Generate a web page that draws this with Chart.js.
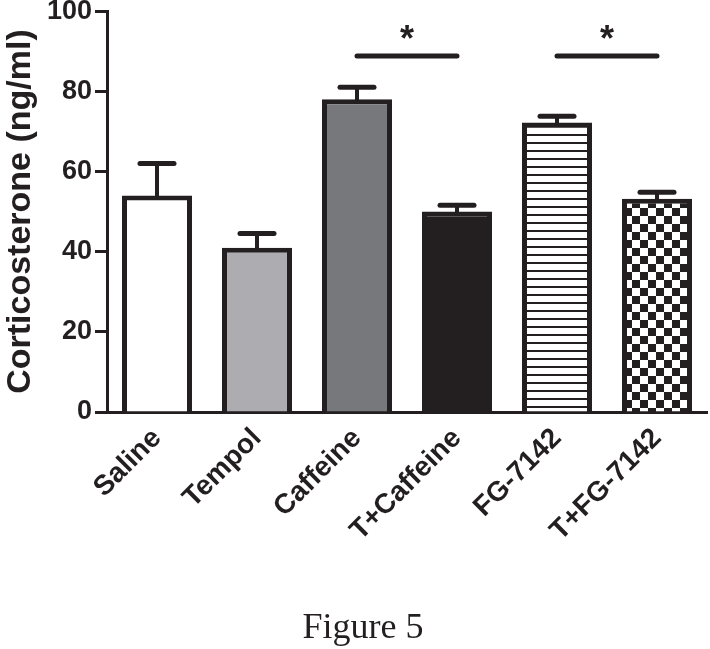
<!DOCTYPE html>
<html>
<head>
<meta charset="utf-8">
<script src="https://cdn.jsdelivr.net/npm/chart.js@4"></script>
<style>
  html, body { margin: 0; padding: 0; background: #fff; }
  #wrap { width: 710px; height: 649px; }
</style>
</head>
<body>
<div id="wrap"><canvas id="corticoChart" width="710" height="649"></canvas></div>
<script>
// values
const categories = ['Saline', 'Tempol', 'Caffeine', 'T+Caffeine', 'FG-7142', 'T+FG-7142'];
const means = [54, 41, 78, 50, 72.2, 53.2];
const sems = [8, 3.5, 3, 1.6, 1.6, 1.6];
const yTicks = [0, 20, 40, 60, 80, 100];
const sigPairs = [[2, 3], [4, 5]];
const sigLevels = [88.8, 88.8];
const sigLabel = '*';
const caption = 'Figure 5';

const ink = '#231f20';

function stripePattern() {
    const c = document.createElement('canvas');
    c.width = 8; c.height = 8;
    const g = c.getContext('2d');
    g.fillStyle = '#fff';
    g.fillRect(0, 0, 8, 8);
    g.fillStyle = ink;
    g.fillRect(0, 6, 8, 2);
    return g.createPattern(c, 'repeat');
}

function checkerPattern() {
    const c = document.createElement('canvas');
    c.width = 16; c.height = 16;
    const g = c.getContext('2d');
    g.fillStyle = '#fff';
    g.fillRect(0, 0, 16, 16);
    g.fillStyle = ink;
    g.fillRect(0, 0, 8, 8);
    g.fillRect(8, 8, 8, 8);
    return g.createPattern(c, 'repeat');
}

const fills = ['#ffffff', '#adadb1', '#77787c', ink, stripePattern(), checkerPattern()];

const errorBars = {
    id: 'errorBars',
    afterDatasetsDraw(chart) {
        const ctx = chart.ctx;
        const y = chart.scales.y;
        const meta = chart.getDatasetMeta(0);
        ctx.save();
        ctx.strokeStyle = ink;
        ctx.lineCap = 'round';
        meta.data.forEach((bar, i) => {
            const top = y.getPixelForValue(means[i]);
            const hi = y.getPixelForValue(means[i] + sems[i]);
            ctx.lineWidth = 4;
            ctx.beginPath();
            ctx.moveTo(bar.x, top);
            ctx.lineTo(bar.x, hi);
            ctx.stroke();
            ctx.lineWidth = 5;
            ctx.beginPath();
            ctx.moveTo(bar.x - 17, hi);
            ctx.lineTo(bar.x + 17, hi);
            ctx.stroke();
        });
        // significance brackets
        const x = chart.scales.x;
        sigPairs.forEach((p, k) => {
            const ly = y.getPixelForValue(sigLevels[k]);
            const x0 = x.getPixelForValue(p[0]);
            const x1 = x.getPixelForValue(p[1]);
            ctx.lineWidth = 5;
            ctx.beginPath();
            ctx.moveTo(x0, ly);
            ctx.lineTo(x1, ly);
            ctx.stroke();
            ctx.fillStyle = ink;
            ctx.font = 'bold 36px "Liberation Sans", Arial, sans-serif';
            ctx.textAlign = 'center';
            ctx.textBaseline = 'alphabetic';
            ctx.fillText(sigLabel, (x0 + x1) / 2, ly - 5);
        });
        ctx.restore();
    },
    afterDraw(chart) {
        const ctx = chart.ctx;
        ctx.save();
        ctx.fillStyle = ink;
        ctx.font = '36px "Liberation Serif", "Times New Roman", serif';
        ctx.textAlign = 'center';
        ctx.textBaseline = 'alphabetic';
        ctx.fillText(caption, 363, 638);
        ctx.restore();
    }
};

Chart.defaults.font.family = '"Liberation Sans", Arial, sans-serif';
Chart.defaults.color = ink;

const ctx = document.getElementById('corticoChart').getContext('2d');
const chart = new Chart(ctx, {
    type: 'bar',
    data: {
        labels: categories,
        datasets: [{
            data: means,
            backgroundColor: fills,
            borderColor: ink,
            borderWidth: 5,
            borderSkipped: 'start',
            barPercentage: 0.7,
            categoryPercentage: 1
        }]
    },
    options: {
        responsive: false,
        animation: false,
        layout: { padding: { top: 0, right: 3, bottom: 97, left: 0 } },
        plugins: {
            legend: { display: false },
            tooltip: { enabled: false },
            title: { display: false }
        },
        scales: {
            x: {
                grid: { display: false },
                border: { display: true, color: ink, width: 3 },
                ticks: {
                    minRotation: 45,
                    maxRotation: 45,
                    padding: 2,
                    font: { size: 28, weight: 'bold' }
                },
                afterFit(scale) { scale.height = 140; }
            },
            y: {
                min: 0,
                max: 100,
                afterBuildTicks(scale) { scale.ticks = yTicks.map(v => ({ value: v })); },
                grid: { drawOnChartArea: false, tickLength: 12, tickWidth: 3, tickColor: ink },
                border: { display: true, color: ink, width: 3 },
                ticks: {
                    padding: 3,
                    font: { size: 27, weight: 'bold', lineHeight: 0.6 }
                },
                title: {
                    display: true,
                    text: 'Corticosterone (ng/ml)',
                    padding: 0,
                    font: { size: 34, weight: 'bold' }
                },
                afterFit(scale) { scale.width = 107; }
            }
        }
    },
    plugins: [errorBars]
});
</script>
</body>
</html>
